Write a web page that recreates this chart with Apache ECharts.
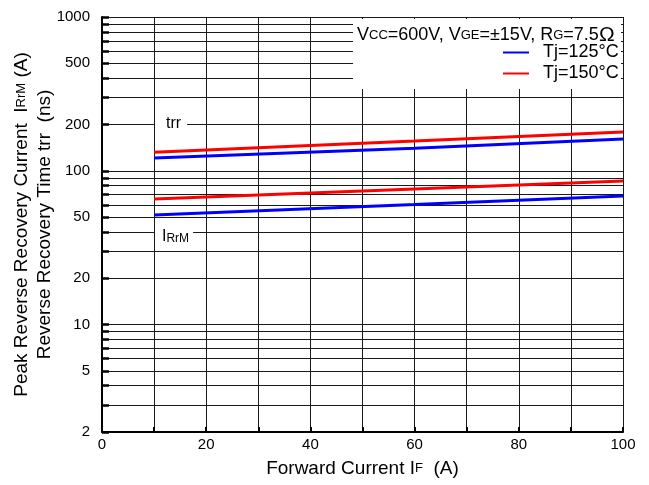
<!DOCTYPE html>
<html>
<head>
<meta charset="utf-8">
<script src="https://cdn.jsdelivr.net/npm/echarts@6/dist/echarts.min.js"></script>
<style>
  html, body { margin: 0; padding: 0; background: #fff; }
  #main { width: 649px; height: 485px; }
</style>
</head>
<body>
<div id="main"></div>
<script>
// 数据
var xTicks = [0, 20, 40, 60, 80, 100];
var yGrid = [2, 3, 4, 5, 6, 7, 8, 9, 10, 20, 30, 40, 50, 60, 70, 80, 90, 100,
             200, 300, 400, 500, 600, 700, 800, 900, 1000];
var yLabels = [2, 5, 10, 20, 50, 100, 200, 500, 1000];

var current = [10, 60, 100];
var trr125 = [121, 140, 161];
var trr150 = [132, 156, 179];
var irr125 = [51.6, 60.4, 68.6];
var irr150 = [65.6, 76.2, 85.9];

function pairs(xs, ys) {
  return xs.map(function (x, i) { return [x, ys[i]]; });
}

var font = 'Liberation Sans, Arial, sans-serif';
var chart = echarts.init(document.getElementById('main'));

function line(name, color, ys) {
  return {
    name: name,
    type: 'line',
    data: pairs(current, ys),
    showSymbol: false,
    lineStyle: { color: color, width: 3 },
    itemStyle: { color: color }
  };
}

var option = {
  animation: false,
  grid: { left: 102, right: 26, top: 17, bottom: 53, containLabel: false, outerBoundsMode: 'none' },
  //条件说明
  title: {
    left: 357, top: 25, padding: 0,
    text: '{a|V}{s|CC}{a|=600V, V}{s|GE}{a|=±15V, R}{s|G}{a|=7.5}{o|Ω}',
    textStyle: {
      fontWeight: 'normal',
      rich: {
        a: { fontFamily: font, fontSize: 18, color: '#000', fontWeight: 'normal' },
        s: { fontFamily: font, fontSize: 13, color: '#000', fontWeight: 'normal' },
        o: { fontFamily: font, fontSize: 21, color: '#000', fontWeight: 'normal' }
      }
    }
  },
  legend: {
    orient: 'vertical',
    left: 503, top: 42, padding: 0,
    itemWidth: 26, itemHeight: 2,
    itemGap: 0,
    icon: 'rect',
    data: ['Tj=125°C', 'Tj=150°C'],
    textStyle: { fontFamily: font, fontSize: 18, color: '#000', lineHeight: 21, padding: [0, 0, 0, 9] }
  },
  xAxis: {
    type: 'value',
    min: 0, max: 100, interval: 10,
    name: '{a|Forward Current I}{s|F}{a|  (A)}',
    nameLocation: 'middle',
    nameGap: 27,
    nameMoveOverlap: false,
    nameTextStyle: {
      rich: {
        a: { fontFamily: font, fontSize: 19, color: '#000' },
        s: { fontFamily: font, fontSize: 13, color: '#000' }
      }
    },
    axisLine: { lineStyle: { color: '#000', width: 2 } },
    axisTick: { inside: true, length: 5, lineStyle: { color: '#000', width: 2 } },
    axisLabel: {
      customValues: xTicks,
      margin: 5,
      fontFamily: font, fontSize: 15, color: '#000'
    },
    splitLine: { show: true, lineStyle: { color: '#1a1a1a', width: 1 } }
  },
  yAxis: {
    type: 'log',
    logBase: 10,
    min: 2, max: 1000,
    name: '{a|Peak Reverse Recovery Current  I}{s|RrM}{a| (A)}\n{a|Reverse Recovery Time trr  (ns)}',
    nameLocation: 'middle',
    nameRotate: 90,
    nameGap: 46,
    nameMoveOverlap: false,
    nameTextStyle: {
      align: 'center',
      rich: {
        a: { fontFamily: font, fontSize: 19, color: '#000', lineHeight: 23, align: 'center' },
        s: { fontFamily: font, fontSize: 13, color: '#000', lineHeight: 23 }
      }
    },
    axisLine: { show: true, lineStyle: { color: '#000', width: 2 } },
    axisTick: {
      customValues: yGrid,
      inside: true, length: 7,
      lineStyle: { color: '#000', width: 2.5 }
    },
    axisLabel: {
      customValues: yLabels,
      margin: 12,
      fontFamily: font, fontSize: 15, color: '#000',
      formatter: function (v) { return String(Math.round(v)); }
    },
    splitLine: { show: true, lineStyle: { color: '#1a1a1a', width: 1 } }
  },
  graphic: [
    //图例白底
    { type: 'rect', z: 3, shape: { x: 353, y: 19, width: 268, height: 70 }, style: { fill: '#fff' } },
    { type: 'text', z: 3, left: 155, top: 114,
      style: { text: 'trr', fontFamily: font, fontSize: 16, fill: '#000',
               backgroundColor: '#fff', padding: [2, 6, 2, 11] } },
    { type: 'text', z: 3, left: 155, top: 227,
      style: { text: '{a|I}{s|RrM}', backgroundColor: '#fff', padding: [2, 4, 2, 7],
               rich: {
                 a: { fontFamily: font, fontSize: 16, fill: '#000', color: '#000' },
                 s: { fontFamily: font, fontSize: 12, fill: '#000', color: '#000', verticalAlign: 'bottom' }
               } } }
  ],
  series: [
    line('Tj=150°C', '#ff0000', trr150),
    line('Tj=125°C', '#0000ff', trr125),
    line('Tj=150°C', '#ff0000', irr150),
    line('Tj=125°C', '#0000ff', irr125)
  ]
};

chart.setOption(option);
</script>
</body>
</html>
